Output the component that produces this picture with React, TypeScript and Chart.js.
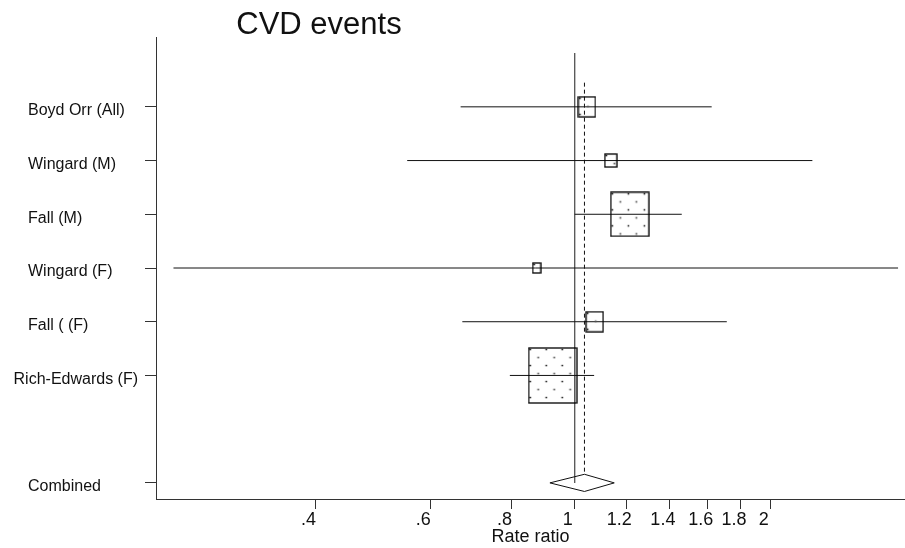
import React, { useEffect, useRef } from "react";
import { Chart, registerables } from "chart.js";

Chart.register(...registerables);

// ---------- data ----------
const studies = ["Boyd Orr (All)", "Wingard (M)", "Fall (M)", "Wingard (F)", "Fall ( (F)", "Rich-Edwards (F)"];
const estimates = [1.044, 1.136, 1.215, 0.874, 1.073, 0.925];
const lowerCI = [0.668, 0.553, 1.0, 0.242, 0.672, 0.795];
const upperCI = [1.623, 2.317, 1.46, 3.137, 1.712, 1.071];
const weights = [6.5, 3.0, 32.1, 1.5, 6.5, 50.4];

const combinedLabel = "Combined";
const combinedEstimate = 1.035;
const combinedLower = 0.916;
const combinedUpper = 1.15;

const xTicks = [0.4, 0.6, 0.8, 1, 1.2, 1.4, 1.6, 1.8, 2];
const xTickLabels = [".4", ".6", ".8", "1", "1.2", "1.4", "1.6", "1.8", "2"];
const titleText = "CVD events";
const xAxisTitle = "Rate ratio";

// ---------- layout / style constants ----------
const FONT = '"Liberation Sans", Arial, Helvetica, sans-serif';
const X_MIN = 0.2275;
const X_MAX = 3.215;
const combinedRow = studies.length + 1;
const rows = studies.map((_, i) => i);
const yTicks = [...rows, combinedRow];
const yLabels = [...studies, combinedLabel];
const BOX_K = 6.76; // px per sqrt(weight %)
const BOX_ASPECT = 1.15;
const DIAMOND_HALF = 0.16;
const INK = "#111";
const AXIS = "#333";

function makeBox(w: number, h: number): HTMLCanvasElement {
  const W = Math.max(3, Math.round(w));
  const H = Math.max(3, Math.round(h));
  const c = document.createElement("canvas");
  c.width = W + 2;
  c.height = H + 2;
  const ctx = c.getContext("2d")!;
  for (let y = 1; y < H; y += 16) {
    for (let x = 1; x < W; x += 16) {
      ctx.fillStyle = "#000";
      ctx.fillRect(x + 0.8, y + 0.8, 1.5, 1.5);
    }
  }
  for (let y = 9; y < H; y += 16) {
    for (let x = 9; x < W; x += 16) {
      ctx.fillStyle = "#555";
      ctx.fillRect(x + 0.7, y + 0.7, 1.7, 1.7);
    }
  }
  ctx.strokeStyle = "#000";
  ctx.lineWidth = 1.3;
  ctx.strokeRect(1, 1, W, H);
  return c;
}

const textPlugin = {
  id: "forestText",
  afterDraw(chart: any) {
    const ctx = chart.ctx as CanvasRenderingContext2D;
    const yScale = chart.scales.y;
    ctx.save();
    ctx.font = `16px ${FONT}`;
    ctx.fillStyle = INK;
    ctx.textBaseline = "middle";
    ctx.textAlign = "left";
    const maxRight = yScale.right - 11 - 7;
    yTicks.forEach((v, i) => {
      const t = yLabels[i];
      const w = ctx.measureText(t).width;
      const x = Math.min(28, maxRight - w);
      ctx.fillText(t, x, yScale.getPixelForValue(v) + 4);
    });
    ctx.font = `31px ${FONT}`;
    ctx.textAlign = "center";
    ctx.textBaseline = "alphabetic";
    ctx.fillText(titleText, 319, 33.5);
    ctx.restore();
  },
};

const lineStyle = {
  type: "line" as const,
  borderWidth: 1,
  pointRadius: 0,
  pointHoverRadius: 0,
  fill: false,
  tension: 0,
};

export default function App() {
  const ref = useRef<HTMLCanvasElement | null>(null);

  useEffect(() => {
    if (!ref.current) return;
    const boxImages = weights.map((w) => makeBox(BOX_K * Math.sqrt(w), BOX_K * Math.sqrt(w) * BOX_ASPECT));

    const ciSets = studies.map((s, i) => ({
      ...lineStyle,
      label: s + " CI",
      data: [
        { x: lowerCI[i], y: i },
        { x: upperCI[i], y: i },
      ],
      borderColor: INK,
    }));

    const chart = new Chart(ref.current, {
      type: "scatter",
      data: {
        datasets: [
          {
            type: "scatter",
            label: "Estimates",
            data: estimates.map((e, i) => ({ x: e, y: i })),
            pointStyle: boxImages as any,
            pointRadius: weights.map((w) => (BOX_K * Math.sqrt(w)) / 2),
            showLine: false,
            clip: false,
          } as any,
          ...ciSets,
          {
            ...lineStyle,
            label: "Combined",
            data: [
              { x: combinedLower, y: combinedRow },
              { x: combinedEstimate, y: combinedRow - DIAMOND_HALF },
              { x: combinedUpper, y: combinedRow },
              { x: combinedEstimate, y: combinedRow + DIAMOND_HALF },
              { x: combinedLower, y: combinedRow },
            ],
            borderColor: INK,
          },
          {
            ...lineStyle,
            label: "No effect",
            data: [
              { x: 1, y: -1 },
              { x: 1, y: combinedRow },
            ],
            borderColor: "#444",
            borderWidth: 1.2,
          },
          {
            ...lineStyle,
            label: "Pooled estimate",
            data: [
              { x: combinedEstimate, y: -0.45 },
              { x: combinedEstimate, y: combinedRow - DIAMOND_HALF },
            ],
            borderColor: INK,
            borderDash: [4, 3],
          },
        ] as any,
      },
      options: {
        responsive: false,
        animation: false,
        devicePixelRatio: 1,
        events: [],
        layout: { autoPadding: false, padding: { top: 37, left: 0, right: 0, bottom: 0 } },
        plugins: {
          legend: { display: false },
          title: { display: false },
          tooltip: { enabled: false },
        },
        scales: {
          x: {
            type: "logarithmic",
            position: "bottom",
            min: X_MIN,
            max: X_MAX,
            bounds: "data",
            afterBuildTicks: (s: any) => {
              s.ticks = xTicks.map((v) => ({ value: v }));
            },
            afterFit: (s: any) => {
              s.height = 49;
              s.paddingLeft = 0;
              s.paddingRight = 0;
            },
            ticks: {
              autoSkip: false,
              maxRotation: 0,
              minRotation: 0,
              padding: 0,
              labelOffset: -7,
              color: INK,
              font: { family: FONT, size: 18 },
              callback: (_v: any, i: number) => xTickLabels[i],
            },
            grid: {
              drawOnChartArea: false,
              drawTicks: true,
              tickLength: 10,
              color: AXIS,
              lineWidth: 1,
            },
            border: { display: true, color: AXIS, width: 1 },
            title: {
              display: true,
              text: xAxisTitle,
              color: INK,
              font: { family: FONT, size: 18 },
              padding: { top: 0, bottom: 0 },
            },
          },
          y: {
            type: "linear",
            reverse: true,
            min: -1.3,
            max: combinedRow + 0.3,
            bounds: "data",
            afterBuildTicks: (s: any) => {
              s.ticks = yTicks.map((v) => ({ value: v }));
            },
            afterFit: (s: any) => {
              s.width = 156;
              s.paddingTop = 0;
              s.paddingBottom = 0;
            },
            ticks: { display: false },
            grid: {
              drawOnChartArea: false,
              drawTicks: true,
              tickLength: 11,
              color: AXIS,
              lineWidth: 1,
            },
            border: { display: true, color: AXIS, width: 1 },
          },
        },
      } as any,
      plugins: [textPlugin],
    });
    return () => chart.destroy();
  }, []);

  return (
    <div style={{ position: "fixed", left: 0, top: 0, width: 905, height: 548, background: "#fff" }}>
      <canvas ref={ref} width={905} height={548} style={{ display: "block" }} />
    </div>
  );
}
